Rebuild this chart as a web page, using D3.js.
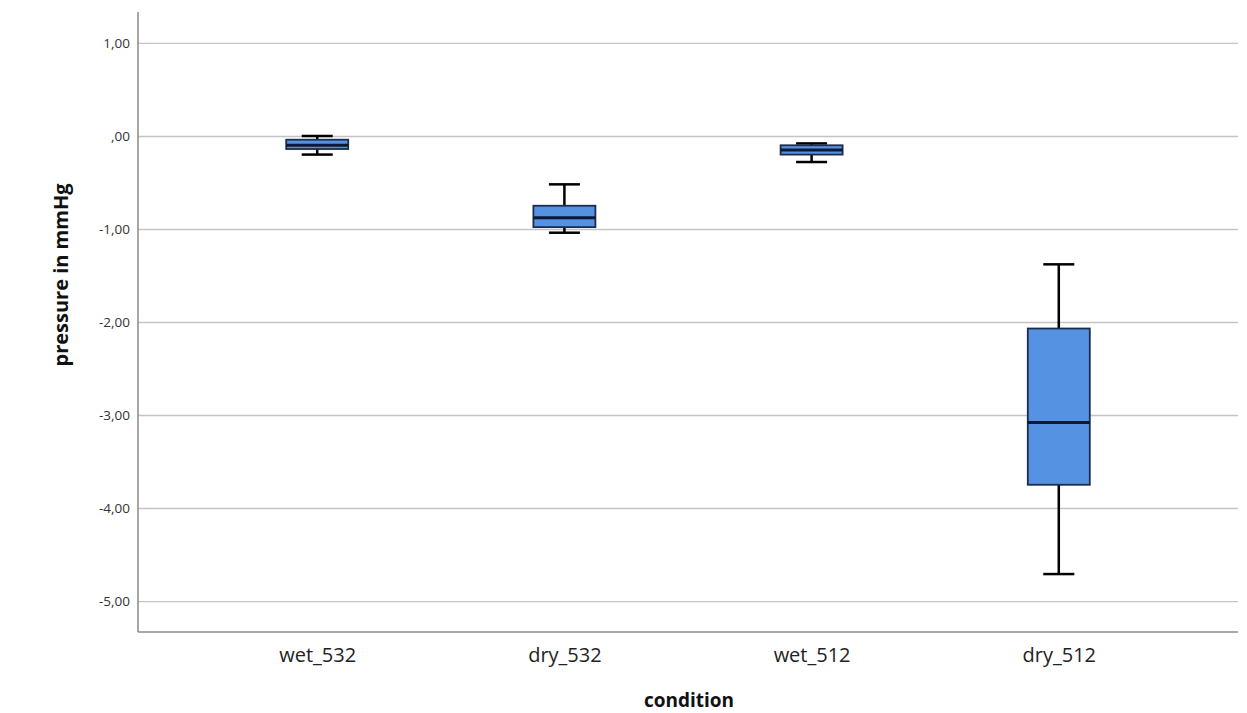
<!DOCTYPE html>
<meta charset="utf-8">
<script src="https://d3js.org/d3.v7.min.js"></script>
<style>
  body { margin: 0; background: #fff; }
</style>
<div id="chart"></div>
<script>

  // box plot values
  var conditions = ["wet_532", "dry_532", "wet_512", "dry_512"];
  var whiskerMax = [0.00, -0.52, -0.08, -1.38];
  var q3Values   = [-0.04, -0.75, -0.10, -2.07];
  var medians    = [-0.10, -0.88, -0.15, -3.08];
  var q1Values   = [-0.14, -0.98, -0.20, -3.75];
  var whiskerMin = [-0.20, -1.04, -0.28, -4.71];
  var yTicks = [1, 0, -1, -2, -3, -4, -5];

  var data = conditions.map(function(c, i) {
    return { name: c, max: whiskerMax[i], q3: q3Values[i], med: medians[i], q1: q1Values[i], min: whiskerMin[i] };
  });

  var W = 1247, H = 713;
  var margin = {top: 12, right: 9, bottom: 81, left: 138};
  var width = W - margin.left - margin.right;
  var height = H - margin.top - margin.bottom;

  var svg = d3.select("#chart")
    .append("svg")
      .attr("width", W)
      .attr("height", H)
    .append("g")
      .attr("transform", "translate(" + margin.left + "," + margin.top + ")");

  var y = d3.scaleLinear()
    .domain([-5.333, 1.333])
    .range([height, 0]);

  var x = d3.scalePoint()
    .domain(conditions)
    .range([0, width])
    .padding(0.725);

  var fmt = function(v) {
    if (v === 0) return ",00";
    return (v < 0 ? "-" : "") + Math.abs(v).toFixed(2).replace(".", ",");
  };

  // gridlines
  svg.append("g")
    .attr("class", "grid")
    .call(d3.axisLeft(y).tickValues(yTicks).tickSize(-width).tickFormat(""))
    .call(function(g) { g.select(".domain").remove(); })
    .selectAll("line")
      .attr("stroke", "#c4c4c4")
      .attr("stroke-width", 1.3);

  // y tick labels
  var yAxis = svg.append("g")
    .call(d3.axisLeft(y).tickValues(yTicks).tickSize(0).tickPadding(8).tickFormat(fmt));
  yAxis.select(".domain").remove();
  yAxis.selectAll("text")
    .attr("font-family", "'Open Sans', 'DejaVu Sans', sans-serif")
    .attr("font-size", 13.5)
    .attr("fill", "#333");

  // axis lines
  svg.append("line")
    .attr("x1", 0).attr("x2", 0).attr("y1", 0).attr("y2", height)
    .attr("stroke", "#8a8a8a").attr("stroke-width", 1.5);
  svg.append("line")
    .attr("x1", 0).attr("x2", width).attr("y1", height).attr("y2", height)
    .attr("stroke", "#8a8a8a").attr("stroke-width", 1.5);

  // x labels
  var xAxis = svg.append("g")
    .attr("transform", "translate(0," + height + ")")
    .call(d3.axisBottom(x).tickSize(0).tickPadding(16));
  xAxis.select(".domain").remove();
  xAxis.selectAll("text")
    .attr("font-family", "'Open Sans', 'DejaVu Sans', sans-serif")
    .attr("font-size", 20)
    .attr("fill", "#222");

  var boxW = 62, capW = 31;

  var boxes = svg.selectAll(".box")
    .data(data)
    .enter()
    .append("g")
      .attr("class", "box")
      .attr("transform", function(d) { return "translate(" + x(d.name) + ",0)"; });

  // whisker stems
  boxes.append("line")
    .attr("x1", 0).attr("x2", 0)
    .attr("y1", function(d) { return y(d.max); })
    .attr("y2", function(d) { return y(d.min); })
    .attr("stroke", "#000").attr("stroke-width", 2.5);

  // caps
  boxes.selectAll(".cap")
    .data(function(d) { return [d.max, d.min]; })
    .enter()
    .append("line")
      .attr("x1", -capW / 2).attr("x2", capW / 2)
      .attr("y1", function(v) { return y(v); })
      .attr("y2", function(v) { return y(v); })
      .attr("stroke", "#000").attr("stroke-width", 2.5);

  // boxes
  boxes.append("rect")
    .attr("x", -boxW / 2)
    .attr("width", boxW)
    .attr("y", function(d) { return y(d.q3); })
    .attr("height", function(d) { return y(d.q1) - y(d.q3); })
    .attr("fill", "#5593e2")
    .attr("stroke", "#1c2c4c")
    .attr("stroke-width", 1.8);

  // medians
  boxes.append("line")
    .attr("x1", -boxW / 2).attr("x2", boxW / 2)
    .attr("y1", function(d) { return y(d.med); })
    .attr("y2", function(d) { return y(d.med); })
    .attr("stroke", "#0b1838").attr("stroke-width", 3);

  // axis titles
  svg.append("text")
    .attr("x", 689 - margin.left)
    .attr("y", 707 - margin.top)
    .attr("text-anchor", "middle")
    .attr("font-family", "'Open Sans', 'DejaVu Sans', sans-serif")
    .attr("font-weight", "bold")
    .attr("font-size", 19)
    .attr("fill", "#111")
    .text("condition");

  svg.append("text")
    .attr("transform", "translate(" + (68 - margin.left) + "," + (275 - margin.top) + ")rotate(-90)")
    .attr("text-anchor", "middle")
    .attr("font-family", "'Open Sans', 'DejaVu Sans', sans-serif")
    .attr("font-weight", "bold")
    .attr("font-size", 20)
    .attr("fill", "#111")
    .text("pressure in mmHg");

</script>
